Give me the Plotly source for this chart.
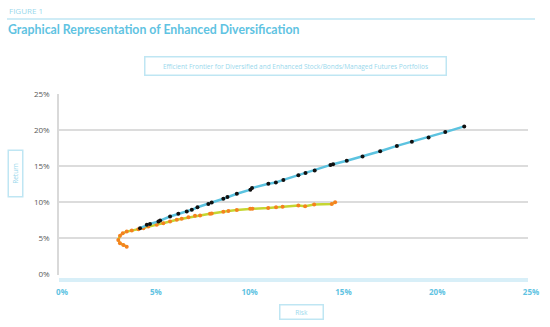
import plotly.graph_objects as go

# Risk / return (%) along each efficient frontier
diversified_risk = [3.61, 3.43, 3.25, 3.16, 3.25, 3.40, 3.61, 3.88, 4.23, 4.50, 4.76, 5.21,
                    5.56, 5.92, 6.28, 6.54, 6.90, 7.25, 7.52, 8.05, 8.14, 8.76, 9.03, 9.48,
                    10.19, 10.31, 11.15, 11.57, 11.92, 12.76, 13.12, 13.60, 14.54, 14.72]
diversified_return = [3.86, 4.10, 4.33, 4.79, 5.35, 5.72, 5.94, 6.08, 6.28, 6.42, 6.64, 6.88,
                      7.11, 7.33, 7.57, 7.71, 7.94, 8.13, 8.17, 8.40, 8.44, 8.68, 8.78, 8.92,
                      9.10, 9.10, 9.21, 9.31, 9.38, 9.54, 9.47, 9.69, 9.76, 10.00]

enhanced_risk = [4.32, 4.68, 4.85, 5.30, 5.39, 5.92, 6.36, 6.81, 7.08, 7.38, 7.96, 8.14,
                 8.76, 8.98, 9.48, 10.20, 10.29, 11.16, 11.56, 11.96, 12.76, 13.14, 13.63,
                 14.47, 14.61, 15.34, 16.18, 17.12, 18.01, 18.81, 19.70, 20.59, 21.60]
enhanced_return = [6.42, 6.88, 7.01, 7.33, 7.47, 8.03, 8.40, 8.72, 8.96, 9.31, 9.75, 9.97,
                   10.49, 10.72, 11.18, 11.74, 11.97, 12.57, 12.74, 13.10, 13.75, 14.07, 14.42,
                   15.18, 15.28, 15.76, 16.36, 17.08, 17.81, 18.38, 18.99, 19.72, 20.51]

axis_ticks = [0, 5, 10, 15, 20, 25]
axis_labels = ["0%", "5%", "10%", "15%", "20%", "25%"]

W, H = 550, 327
ML, MR, MT, MB = 59, 22, 94, 40
PW, PH = W - ML - MR, H - MT - MB


def px(x):
    return (x - ML) / PW


def py(y):
    return (H - MB - y) / PH


ACCENT = "#5fc3e2"
PALE = "#9ad8ec"
BOX = "#bfe6f3"

fig = go.Figure()
fig.add_trace(go.Scatter(
    x=diversified_risk, y=diversified_return, mode="lines+markers",
    line=dict(color="#c5d631", width=2.5),
    marker=dict(color="#f5821f", size=4),
    name="Diversified", showlegend=False,
))
fig.add_trace(go.Scatter(
    x=enhanced_risk, y=enhanced_return, mode="lines+markers",
    line=dict(color="#5cc3e0", width=2.5),
    marker=dict(color="#111111", size=4),
    name="Enhanced", showlegend=False,
))

fig.update_layout(
    width=W, height=H,
    margin=dict(l=ML, r=MR, t=MT, b=MB),
    paper_bgcolor="white", plot_bgcolor="white",
    font=dict(family="Open Sans, sans-serif"),
    xaxis=dict(
        range=[0, 25], tickvals=axis_ticks, ticktext=["<b>%s</b>" % t for t in axis_labels],
        anchor="free", position=py(280),
        showgrid=False, zeroline=False,
        showline=True, linecolor="#d8eff8", linewidth=4,
        ticks="outside", ticklen=3, tickwidth=2, tickcolor="white",
        minor=dict(tickvals=axis_ticks, ticks="inside", ticklen=3, tickwidth=2, tickcolor="white"),
        tickfont=dict(size=8, color=ACCENT, family="Open Sans, sans-serif"),
        ticklabelshift=3,
    ),
    yaxis=dict(
        range=[0, 25], tickvals=axis_ticks, ticktext=axis_labels,
        domain=[py(274.5), 1],
        showgrid=True, gridcolor="#dcdcdc", gridwidth=1.5,
        zeroline=False,
        showline=True, linecolor="#d9d9d9", linewidth=1.5,
        ticks="", tickfont=dict(size=8, color="#595959"),
        ticklabelstandoff=6,
    ),
)

# Header rule under the figure label
fig.add_shape(type="line", xref="paper", yref="paper",
              x0=px(7), x1=px(535), y0=py(19), y1=py(19),
              line=dict(color="#bfe6f3", width=1.5))

fig.add_annotation(text="FIGURE 1", xref="paper", yref="paper",
                   x=px(7), y=py(10), xanchor="left", yanchor="middle", showarrow=False,
                   font=dict(size=8, color=PALE, family="Open Sans, sans-serif"))
fig.add_annotation(text="<b>Graphical Representation of Enhanced Diversification</b>",
                   xref="paper", yref="paper",
                   x=px(6), y=py(30), xanchor="left", yanchor="middle", showarrow=False,
                   font=dict(size=12.3, color=ACCENT, family="Lato, sans-serif"))

# Chart title box
fig.add_annotation(text="Efficient Frontier for Diversified and Enhanced Stock/Bonds/Managed Futures Portfolios",
                   xref="paper", yref="paper",
                   x=px(295), y=py(66), xanchor="center", yanchor="middle", showarrow=False,
                   width=300, height=17, bordercolor=BOX, borderwidth=1.5, borderpad=0,
                   font=dict(size=6.5, color=PALE, family="Open Sans, sans-serif"))

# Axis title boxes
fig.add_annotation(text="Return", textangle=-90, xref="paper", yref="paper",
                   x=px(15.5), y=py(174), xanchor="center", yanchor="middle", showarrow=False,
                   width=45, height=13, bordercolor=BOX, borderwidth=1.5, borderpad=0,
                   font=dict(size=6.5, color=PALE, family="Open Sans, sans-serif"))
fig.add_annotation(text="Risk", xref="paper", yref="paper",
                   x=px(301.5), y=py(312), xanchor="center", yanchor="middle", showarrow=False,
                   width=42, height=13, bordercolor=BOX, borderwidth=1.5, borderpad=0,
                   font=dict(size=6.5, color=PALE, family="Open Sans, sans-serif"))

fig.write_html("out.html")
